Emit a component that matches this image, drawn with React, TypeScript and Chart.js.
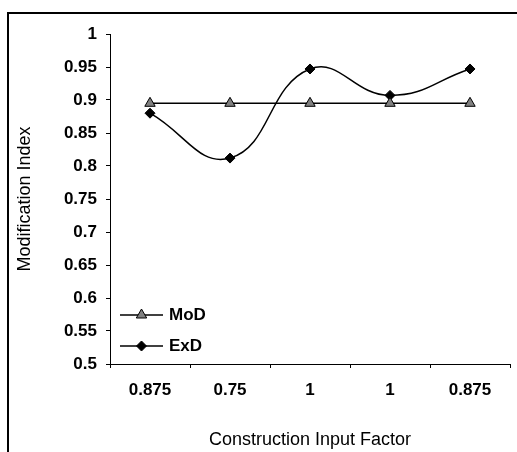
import React, { useEffect, useRef } from "react";
import { Chart, registerables } from "chart.js";
import { drawPoint } from "chart.js/helpers";

Chart.register(...registerables);

const categories = ["0.875", "0.75", "1", "1", "0.875"];
const modValues = [0.895, 0.895, 0.895, 0.895, 0.895];
const exdValues = [0.88, 0.812, 0.947, 0.907, 0.947];
const seriesNames = ["MoD", "ExD"];
const yMin = 0.5;
const yMax = 1;
const yStep = 0.05;
const xTitle = "Construction Input Factor";
const yTitle = "Modification Index";

const FONT = "'Liberation Sans', Arial, sans-serif";

const framePlugin = {
  id: "frame",
  beforeDraw(chart: any) {
    const ctx = chart.ctx;
    ctx.save();
    ctx.fillStyle = "#ffffff";
    ctx.fillRect(0, 0, chart.width, chart.height);
    ctx.strokeStyle = "#000000";
    ctx.lineWidth = 2;
    ctx.beginPath();
    ctx.moveTo(8, chart.height + 2);
    ctx.lineTo(8, 13);
    ctx.lineTo(chart.width + 2, 13);
    ctx.stroke();
    ctx.restore();
  },
};

const innerLegendPlugin = {
  id: "innerLegend",
  afterDraw(chart: any) {
    const { ctx, chartArea } = chart;
    chart.data.datasets.forEach((ds: any, i: number) => {
      const y = chartArea.bottom - 49 + i * 31;
      const x0 = chartArea.left + 10;
      const x1 = x0 + 43;
      const xm = (x0 + x1) / 2;
      ctx.save();
      ctx.strokeStyle = ds.borderColor;
      ctx.lineWidth = ds.borderWidth;
      ctx.beginPath();
      ctx.moveTo(x0, y);
      ctx.lineTo(x1, y);
      ctx.stroke();
      ctx.fillStyle = ds.pointBackgroundColor;
      ctx.strokeStyle = ds.pointBorderColor;
      ctx.lineWidth = ds.pointBorderWidth;
      drawPoint(ctx, { pointStyle: ds.pointStyle, radius: ds.pointRadius, rotation: 0, borderWidth: ds.pointBorderWidth }, xm, y);
      ctx.fillStyle = "#000000";
      ctx.font = `bold 17px ${FONT}`;
      ctx.textAlign = "left";
      ctx.textBaseline = "middle";
      ctx.fillText(ds.label, x1 + 6, y);
      ctx.restore();
    });
  },
};

export default function App() {
  const canvasRef = useRef<HTMLCanvasElement | null>(null);

  useEffect(() => {
    if (!canvasRef.current) return;
    const axisGrid = {
      display: true,
      drawOnChartArea: false,
      drawTicks: true,
      tickLength: 4,
      color: "#000000",
      lineWidth: 1,
    };
    const chart = new Chart(canvasRef.current, {
      type: "line",
      data: {
        labels: categories,
        datasets: [
          {
            label: seriesNames[0],
            data: modValues,
            borderColor: "#000000",
            borderWidth: 1.5,
            pointStyle: "triangle",
            pointRadius: 6,
            pointBackgroundColor: "#808080",
            pointBorderColor: "#000000",
            pointBorderWidth: 1,
            tension: 0,
            fill: false,
          },
          {
            label: seriesNames[1],
            data: exdValues,
            borderColor: "#000000",
            borderWidth: 1.5,
            pointStyle: "rectRot",
            pointRadius: 5,
            pointBackgroundColor: "#000000",
            pointBorderColor: "#000000",
            pointBorderWidth: 1,
            tension: 0.45,
            fill: false,
          },
        ],
      },
      options: {
        responsive: false,
        animation: false,
        devicePixelRatio: 1,
        layout: { padding: { top: 34, right: 5, left: 0, bottom: 0 } },
        plugins: {
          legend: { display: false },
          tooltip: { enabled: false },
        },
        scales: {
          x: {
            type: "category",
            offset: true,
            grid: { ...axisGrid, offset: true },
            border: { display: true, color: "#000000", width: 1 },
            ticks: {
              color: "#000000",
              font: { size: 17, weight: "bold", family: FONT },
              padding: 12,
              maxRotation: 0,
              autoSkip: false,
            },
            title: {
              display: true,
              text: xTitle,
              color: "#000000",
              font: { size: 18, family: FONT },
              padding: { top: 0, bottom: 1 },
            },
            afterFit(s: any) {
              s.height = 88;
            },
          },
          y: {
            min: yMin,
            max: yMax,
            grid: axisGrid,
            border: { display: true, color: "#000000", width: 1 },
            ticks: {
              stepSize: yStep,
              color: "#000000",
              font: { size: 17, weight: "bold", family: FONT },
              padding: 9,
              callback: (v: any) => String(parseFloat(Number(v).toFixed(2))),
            },
            title: {
              display: true,
              text: yTitle,
              color: "#000000",
              font: { size: 18, family: FONT },
              padding: { top: 14, bottom: 0 },
            },
            afterFit(s: any) {
              s.width = 110;
            },
          },
        },
      } as any,
      plugins: [framePlugin, innerLegendPlugin],
    });
    return () => chart.destroy();
  }, []);

  return (
    <div style={{ position: "fixed", left: 0, top: 0, width: 517, height: 452, background: "#fff" }}>
      <canvas ref={canvasRef} width={517} height={452} style={{ display: "block" }} />
    </div>
  );
}
